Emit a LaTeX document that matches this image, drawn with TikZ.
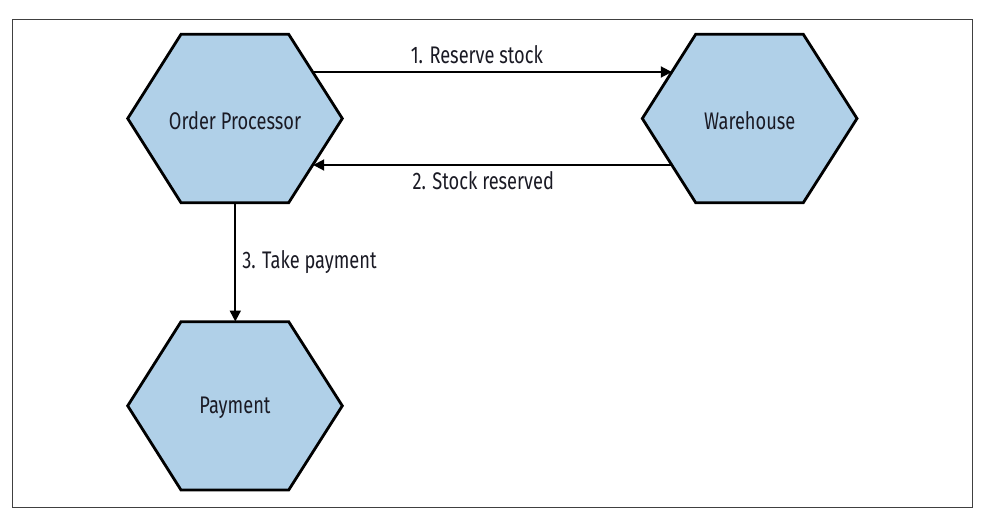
\documentclass[tikz,border=0pt]{standalone}
\usepackage{fontspec}
\setmainfont[FakeStretch=0.76]{Fira Sans}
\usetikzlibrary{arrows.meta}
\definecolor{hexfill}{RGB}{176,208,232}
\definecolor{txt}{RGB}{26,26,36}
\tikzset{
  hexbox/.style={draw=black, line width=2.8pt, fill=hexfill, line join=miter},
  hexlabel/.style={text=txt, font=\fontsize{24}{26}\selectfont, inner sep=0pt},
  arrowlabel/.style={text=txt, font=\fontsize{24}{26}\selectfont, inner sep=0pt},
  conn/.style={draw=black, line width=1.9pt, -{Triangle[length=11pt,width=11pt]}},
  frame/.style={draw=black!75, line width=1pt}
}
\begin{document}
\begin{tikzpicture}[x=1pt,y=-1pt]
\useasboundingbox (0,0) rectangle (984,520);
\draw[frame] (12.5,19.5) rectangle (972.5,507);
% Order Processor
\draw[hexbox] (127.7,118.5) -- (181,34.3) -- (288.7,34.3) -- (342.3,118.5) -- (288.7,202.7) -- (181,202.7) -- cycle;
\node[hexlabel] (op) at (235,120.5) {Order Processor};
% Warehouse
\draw[hexbox] (642.3,118.5) -- (695.7,34.3) -- (803.3,34.3) -- (857,118.5) -- (803.3,202.7) -- (695.7,202.7) -- cycle;
\node[hexlabel] (wh) at (749.7,120.5) {Warehouse};
% Payment
\draw[hexbox] (127.7,405.8) -- (181,321.7) -- (288.7,321.7) -- (342.3,405.8) -- (288.7,490) -- (181,490) -- cycle;
\node[hexlabel] (pay) at (235,407.5) {Payment};
% connector end points on the hexagon borders
\coordinate (opR1) at (312.8,72);
\coordinate (whL1) at (671.8,72);
\coordinate (whL2) at (672,165);
\coordinate (opR2) at (313.2,165);
\coordinate (opB) at (235.3,202.7);
\coordinate (payT) at (235.3,321.5);
\draw[conn] (opR1) -- (whL1) node[arrowlabel, pos=0.457, above=7pt] (l1) {1. Reserve stock};
\draw[conn] (whL2) -- (opR2) node[arrowlabel, pos=0.526, below=6pt] (l2) {2. Stock reserved};
\draw[conn] (opB) -- (payT) node[arrowlabel, pos=0.5, right=6pt] (l3) {3. Take payment};
\end{tikzpicture}
\end{document}
